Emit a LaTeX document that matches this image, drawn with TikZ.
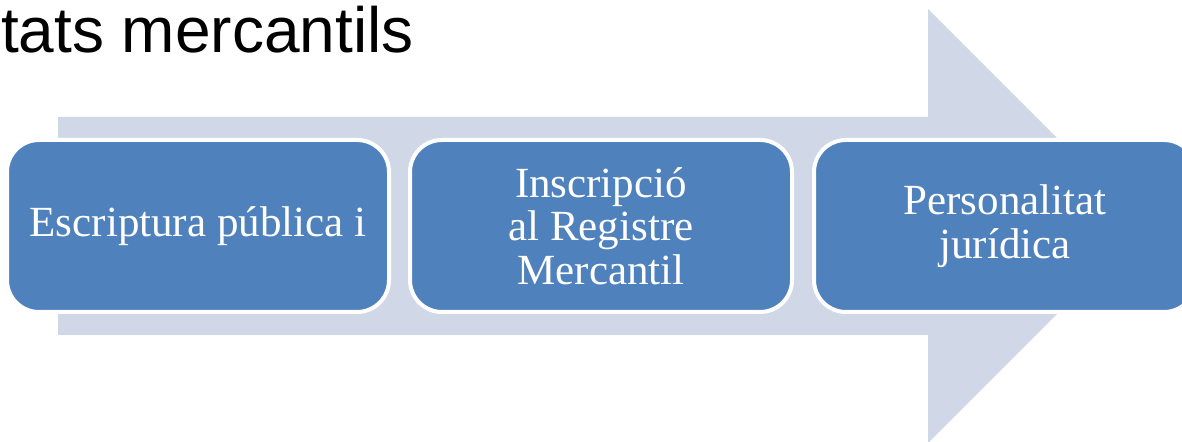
\documentclass[tikz,border=0pt]{standalone}
\usepackage{fontspec}
\setmainfont{Liberation Serif}
\newfontfamily\titlefont{Liberation Sans}
\usetikzlibrary{shapes, arrows.meta, positioning}
\definecolor{boxblue}{HTML}{4F81BD}
\definecolor{arrowgrey}{HTML}{D0D8E8}

\begin{document}
\begin{tikzpicture}[
	x=0.5pt, y=-0.5pt,
	StepBox/.style={rectangle, rounded corners=16pt, draw=white, line width=2pt,
		fill=boxblue, text=white, font=\fontsize{21.5}{21.8}\selectfont,
		align=center, minimum width=191pt, minimum height=86pt, inner sep=0pt}
	]

\useasboundingbox (0,0) rectangle (1182,442);

% big arrow behind the steps
\fill [arrowgrey] (58,117) -- (928,117) -- (928,9) -- (1145,226)
	-- (928,443) -- (928,335) -- (58,335) -- cycle;

\node [anchor=base west, font=\titlefont\fontsize{32}{36}\selectfont] (title) at (-6,53) {tats mercantils};

\node [StepBox] (escriptura) at (198,226) {Escriptura pública i};
\node [StepBox] (inscripcio) at (601,226) {Inscripció\\al Registre\\Mercantil};
\node [StepBox] (personalitat) at (1005,226) {Personalitat\\jurídica};

\end{tikzpicture}
\end{document}
